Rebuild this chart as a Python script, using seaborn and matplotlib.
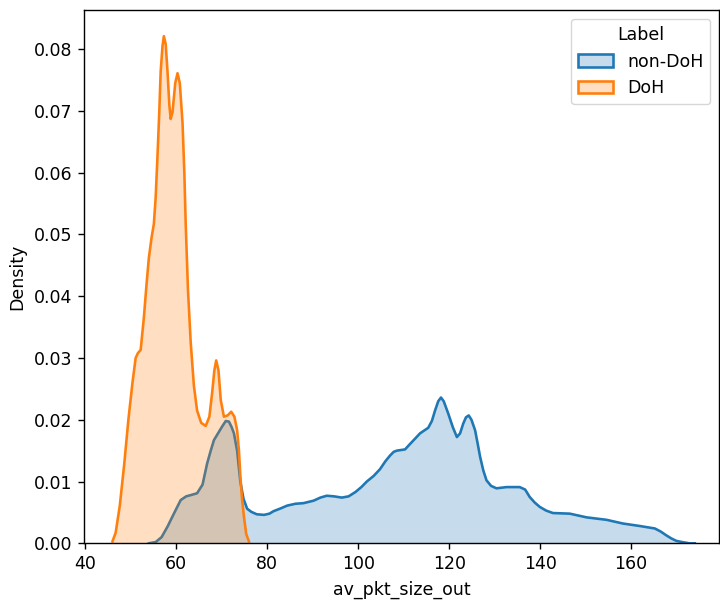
import matplotlib
matplotlib.use("Agg")
import matplotlib.pyplot as plt
from matplotlib.patches import Patch
from matplotlib.colors import to_rgba
import seaborn as sns
import pandas as pd

# Density curves of av_pkt_size_out per traffic label
labels = ["non-DoH", "DoH"]
colors = ["#1f77b4", "#ff7f0e"]

nondoh_x = [54, 55.5, 56.8, 58.1, 59.5, 61.0, 62.2, 63.2, 64.6, 65.8, 66.8, 67.6, 68.3, 69.2,
            70.1, 70.9, 71.6, 72.2, 72.7, 73.4, 74.1, 74.8, 75.6, 76.5, 77.7, 79.3, 80.5, 81.4,
            82.8, 84.4, 86.2, 88.0, 90.2, 91.7, 93.1, 94.7, 96.4, 97.9, 99.4, 100.7, 101.9,
            103.4, 104.8, 106.0, 107.0, 107.8, 108.5, 109.4, 110.3, 111.3, 112.2, 113.6, 114.6,
            115.4, 116.2, 116.9, 117.6, 118.2, 118.8, 119.8, 120.8, 121.7, 122.4, 123.1, 123.7,
            124.3, 124.9, 125.7, 126.3, 126.8, 127.5, 128.2, 129.2, 130.4, 132.6, 135.5, 136.7,
            137.7, 138.8, 139.9, 141.3, 142.8, 146.5, 150.2, 154.6, 158.2, 161.9, 165.2, 166.5,
            167.7, 168.8, 169.9, 171.2, 172.8, 174.0]
nondoh_density = [0, 0.0002, 0.0010, 0.0027, 0.0048, 0.0070, 0.0076, 0.0078, 0.0081, 0.0095,
                  0.0129, 0.0150, 0.0167, 0.0178, 0.0189, 0.0198, 0.0197, 0.0188, 0.0178, 0.0150,
                  0.0100, 0.0072, 0.0056, 0.0051, 0.0047, 0.0046, 0.0048, 0.0052, 0.0056, 0.0061,
                  0.0064, 0.0065, 0.0069, 0.0074, 0.0077, 0.0076, 0.0074, 0.0076, 0.0083, 0.0091,
                  0.0100, 0.0109, 0.0120, 0.0133, 0.0142, 0.0148, 0.0150, 0.0151, 0.0152, 0.0160,
                  0.0167, 0.0178, 0.0183, 0.0187, 0.0198, 0.0215, 0.0230, 0.0236, 0.0230, 0.0210,
                  0.0188, 0.0172, 0.0178, 0.0194, 0.0204, 0.0207, 0.0200, 0.0183, 0.0160, 0.0140,
                  0.0118, 0.0102, 0.0093, 0.0089, 0.0091, 0.0091, 0.0087, 0.0075, 0.0066, 0.0059,
                  0.0053, 0.0049, 0.0048, 0.0042, 0.0038, 0.0032, 0.0028, 0.0024, 0.0019, 0.0013,
                  0.0008, 0.0004, 0.0002, 0.0, 0.0]

doh_x = [46.0, 46.7, 47.6, 48.6, 49.5, 50.4, 51.1, 51.6, 52.2, 52.9, 53.5, 54.0, 54.6, 55.1,
         55.5, 55.9, 56.3, 56.6, 57.0, 57.3, 57.7, 58.1, 58.5, 58.8, 59.2, 59.8, 60.3, 60.8,
         61.4, 61.8, 62.1, 62.6, 63.2, 63.9, 64.6, 65.5, 66.5, 67.3, 67.9, 68.4, 68.8, 69.3,
         69.8, 70.5, 71.3, 72.1, 72.8, 73.4, 73.8, 74.1, 74.5, 74.9, 75.4, 76.0]
doh_density = [0.0003, 0.0017, 0.006, 0.0129, 0.020, 0.0260, 0.0300, 0.0308, 0.0313, 0.0365,
               0.0420, 0.0462, 0.0495, 0.0517, 0.0560, 0.0627, 0.0700, 0.0764, 0.0805, 0.0821,
               0.0808, 0.0764, 0.0710, 0.0687, 0.0698, 0.0745, 0.0761, 0.0745, 0.0681, 0.060,
               0.0517, 0.041, 0.0325, 0.0255, 0.0215, 0.0195, 0.0190, 0.0205, 0.0243, 0.0280,
               0.0296, 0.0280, 0.0232, 0.0205, 0.0207, 0.0213, 0.0205, 0.0183, 0.0150, 0.0110,
               0.0070, 0.0043, 0.0015, 0.0003]

curves = {
    "non-DoH": pd.DataFrame({"av_pkt_size_out": nondoh_x, "Density": nondoh_density}),
    "DoH": pd.DataFrame({"av_pkt_size_out": doh_x, "Density": doh_density}),
}

scale = 1.25
plt.rcParams.update({
    "font.size": 10 * scale,
    "axes.linewidth": 0.8 * scale,
    "xtick.major.size": 3.5 * scale,
    "ytick.major.size": 3.5 * scale,
    "xtick.major.width": 0.8 * scale,
    "ytick.major.width": 0.8 * scale,
    "xtick.major.pad": 3.5 * scale,
    "ytick.major.pad": 3.5 * scale,
    "axes.labelpad": 4.0 * scale,
})

fig = plt.figure(figsize=(7.2, 6.01), dpi=100)
ax = fig.add_axes([0.117, 0.096, 0.8816, 0.887])

zorders = {"non-DoH": (1.0, 1.5), "DoH": (2.0, 2.2)}
for label, color in zip(labels, colors):
    df = curves[label]
    zf, zl = zorders[label]
    ax.fill_between(df["av_pkt_size_out"], df["Density"], 0,
                    facecolor=to_rgba(color, 0.25), edgecolor="none", zorder=zf)
    sns.lineplot(data=df, x="av_pkt_size_out", y="Density", color=color,
                 linewidth=1.5 * scale, ax=ax, zorder=zl, sort=True, estimator=None)

ax.set_xlim(39.8, 179.3)
ax.set_ylim(0, 0.0863)
ax.set_yticks([0.00, 0.01, 0.02, 0.03, 0.04, 0.05, 0.06, 0.07, 0.08])
ax.yaxis.set_major_formatter(matplotlib.ticker.FormatStrFormatter("%.2f"))
ax.set_xlabel("av_pkt_size_out")
ax.set_ylabel("Density")

handles = [Patch(facecolor=to_rgba(c, 0.25), edgecolor=c, linewidth=1.5 * scale) for c in colors]
ax.legend(handles, labels, title="Label", loc="upper right")

fig.savefig("out.png", dpi=100)
